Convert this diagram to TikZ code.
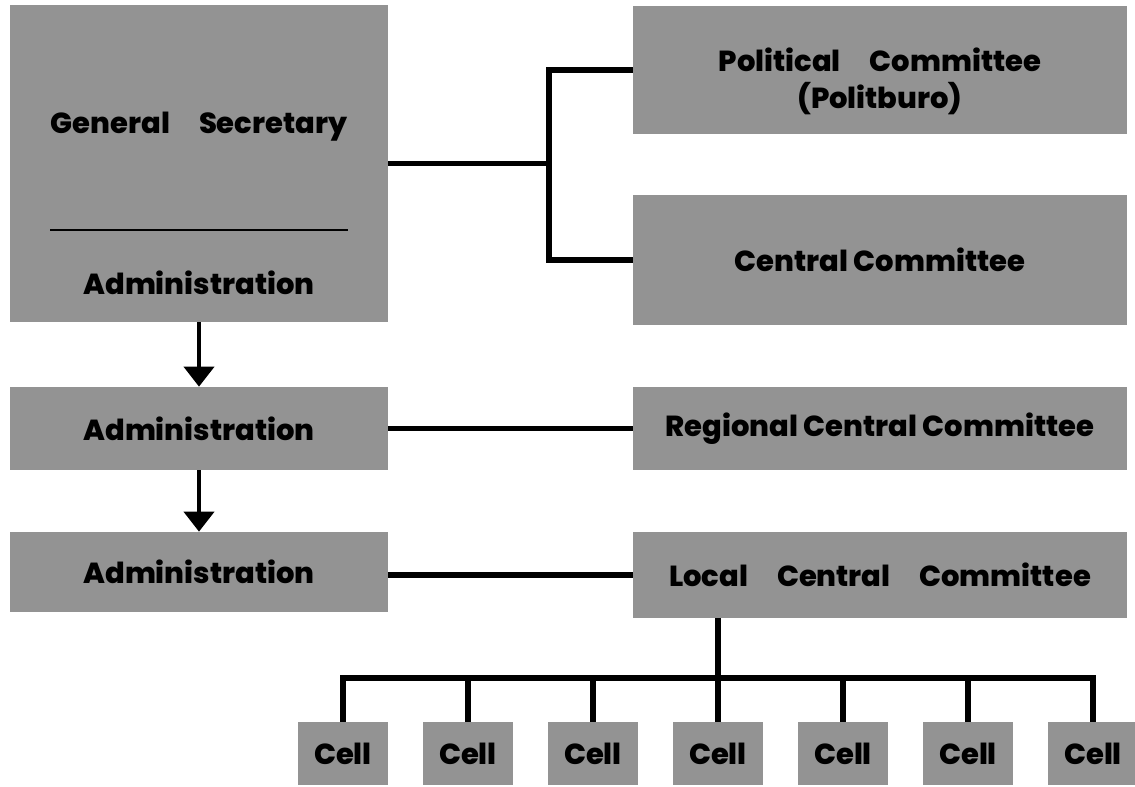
\documentclass[tikz,border=0pt]{standalone}
\usepackage{fontspec}
\setmainfont[BoldFont={Poppins ExtraBold}]{Poppins}
\usetikzlibrary{arrows.meta, positioning, calc}
\definecolor{BoxGray}{HTML}{939393}

\begin{document}
\begin{tikzpicture}[
        x=0.02cm, y=-0.02cm,
        >=Stealth, font=\bfseries\fontsize{16.5}{21}\selectfont,
        unit/.style={fill=BoxGray, inner sep=0pt, align=center, minimum width=7.56cm},
        organ/.style={fill=BoxGray, inner sep=0pt, align=center, minimum width=9.88cm},
        cell/.style={fill=BoxGray, inner sep=0pt, minimum width=1.8cm, minimum height=1.26cm},
        link/.style={line width=3.4pt},
        down/.style={-{Triangle[width=6mm,length=4mm]}, line width=2.3pt},
      ]
        \useasboundingbox (0,0) rectangle (1135,787);
        % left column
        \node[unit, minimum height=6.34cm] (gs) at (199,163.5) {};
        \node (gsname) at (199,127) {General\quad Secretary};
        \node (gsadm)  at (199,283) {Administration};
        \draw[line width=1.4pt] (50,230) -- (348,230);
        \node[unit, minimum height=1.66cm] (adm2) at (199,428.5) {Administration};
        \node[unit, minimum height=1.6cm]  (adm3) at (199,572)   {Administration};
        % right column
        \node[organ, minimum height=2.56cm] (pc)  at (880,70)    {};
        \node[align=center] (pcname) at (880,81) {Political\quad Committee\\(Politburo)};
        \node[organ, minimum height=2.6cm]  (cc)  at (880,260)   {Central Committee};
        \node[organ, minimum height=1.66cm] (rcc) at (880,428.5) {Regional Central Committee};
        \node[organ, minimum height=1.72cm] (lcc) at (880,575)   {Local\quad Central\quad Committee};
        % cells
        \foreach \i in {0,...,6}
          \node[cell] (c\i) at ({343+125*\i},753.5) {Cell};

        \coordinate (fork) at (549,163.5);
        \coordinate (bus)  at (718,678);
        \draw[link] (gs.east) -- (fork);
        \draw[link] (pc.west) -| (fork) |- (cc.west);
        \draw[link] (adm2.east) -- (rcc.west);
        \draw[link] (adm3.east |- lcc.west) -- (lcc.west);
        \draw[down] (gs.south) -- (adm2.north);
        \draw[down] (adm2.south) -- (adm3.north);
        \draw[link] (lcc.south -| bus) -- (bus);
        \draw[link] (c0.north) |- (c6.north |- bus) -- (c6.north);
        \foreach \i in {1,...,5}
          \draw[link] (c\i.north) -- (c\i.north |- bus);
      \end{tikzpicture}
\end{document}
